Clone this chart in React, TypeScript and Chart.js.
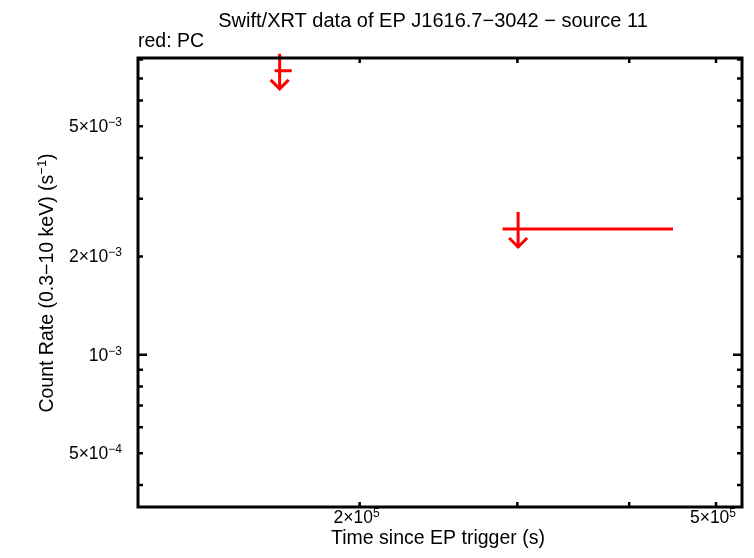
import React, { useEffect, useRef } from "react";
import { Chart, registerables } from "chart.js";

Chart.register(...registerables);

// ---- text ----
const TITLE = "Swift/XRT data of EP J1616.7\u22123042 \u2212 source 11";
const SUBTITLE = "red: PC";
const X_LABEL = "Time since EP trigger (s)";
const Y_LABEL_BASE = "Count Rate (0.3\u221210 keV) (s";
const Y_LABEL_EXP = "\u22121";
const Y_LABEL_TAIL = ")";

// ---- data (PC mode upper limits) ----
const times = [1.628e5, 3.006e5];
const timeLow = [1.607e5, 2.888e5];
const timeHigh = [1.6795e5, 4.477e5];
const upperLimits = [7.39e-3, 2.426e-3];

// ---- axis ranges ----
const X_MIN = 1.131e5;
const X_MAX = 5.346e5;
const Y_MIN = 3.424e-4;
const Y_MAX = 8.09e-3;

// ---- ticks ----
const xTickValues = [2e5, 3e5, 4e5, 5e5];
const xLabelValues = [2e5, 5e5];
const xLabelBases = ["2\u00d710", "5\u00d710"];
const xLabelExps = ["5", "5"];

const yTickValues = [4e-4, 5e-4, 6e-4, 7e-4, 8e-4, 9e-4, 1e-3, 2e-3, 3e-3, 4e-3, 5e-3, 6e-3, 7e-3, 8e-3];
const yMajorValues = [1e-3];
const yLabelValues = [5e-4, 1e-3, 2e-3, 5e-3];
const yLabelBases = ["5\u00d710", "10", "2\u00d710", "5\u00d710"];
const yLabelExps = ["\u22124", "\u22123", "\u22123", "\u22123"];

const FAMILY = "'Liberation Sans', Arial, Helvetica, sans-serif";

function drawSup(
  ctx: CanvasRenderingContext2D,
  base: string,
  exp: string,
  x: number,
  y: number,
  align: "left" | "center" | "right",
  baseSize: number,
  supSize: number,
  raise: number,
  tail = ""
) {
  ctx.font = `${baseSize}px ${FAMILY}`;
  const wb = ctx.measureText(base).width;
  const wt = tail ? ctx.measureText(tail).width : 0;
  ctx.font = `${supSize}px ${FAMILY}`;
  const we = ctx.measureText(exp).width;
  const total = wb + we + wt;
  let sx = x;
  if (align === "center") sx = x - total / 2;
  else if (align === "right") sx = x - total;
  ctx.textAlign = "left";
  ctx.textBaseline = "alphabetic";
  ctx.font = `${baseSize}px ${FAMILY}`;
  ctx.fillText(base, sx, y);
  ctx.font = `${supSize}px ${FAMILY}`;
  ctx.fillText(exp, sx + wb, y - raise);
  if (tail) {
    ctx.font = `${baseSize}px ${FAMILY}`;
    ctx.fillText(tail, sx + wb + we, y);
  }
}

const framePlugin = {
  id: "qdpFrame",
  afterDraw(chart: any) {
    const ctx: CanvasRenderingContext2D = chart.ctx;
    const { left, right, top, bottom } = chart.chartArea;
    const xs = chart.scales.x;
    const ys = chart.scales.y;
    ctx.save();

    // upper limits
    ctx.strokeStyle = "#ff0000";
    ctx.lineWidth = 3;
    ctx.lineCap = "butt";
    for (let i = 0; i < times.length; i++) {
      const px = xs.getPixelForValue(times[i]);
      const py = ys.getPixelForValue(upperLimits[i]);
      const x0 = xs.getPixelForValue(timeLow[i]);
      const x1 = xs.getPixelForValue(timeHigh[i]);
      ctx.beginPath();
      ctx.moveTo(x0, py);
      ctx.lineTo(x1, py);
      ctx.moveTo(px, py - 17);
      ctx.lineTo(px, py + 19);
      ctx.stroke();
      ctx.beginPath();
      ctx.moveTo(px - 9, py + 9);
      ctx.lineTo(px, py + 18);
      ctx.lineTo(px + 9, py + 9);
      ctx.stroke();
    }

    // frame
    ctx.strokeStyle = "#000";
    ctx.lineWidth = 3;
    ctx.strokeRect(left, top, right - left, bottom - top);

    // ticks
    ctx.lineWidth = 2.5;
    ctx.beginPath();
    for (const v of xTickValues) {
      const px = xs.getPixelForValue(v);
      ctx.moveTo(px, bottom);
      ctx.lineTo(px, bottom - 5);
      ctx.moveTo(px, top);
      ctx.lineTo(px, top + 5);
    }
    for (const v of yTickValues) {
      const py = ys.getPixelForValue(v);
      const len = yMajorValues.includes(v) ? 9 : 5;
      ctx.moveTo(left, py);
      ctx.lineTo(left + len, py);
      ctx.moveTo(right, py);
      ctx.lineTo(right - len, py);
    }
    ctx.stroke();

    // tick labels
    ctx.fillStyle = "#000";
    xLabelValues.forEach((v, i) => {
      const px = xs.getPixelForValue(v);
      drawSup(ctx, xLabelBases[i], xLabelExps[i], px - 3, bottom + 16, "center", 17.5, 12, 6);
    });
    yLabelValues.forEach((v, i) => {
      const py = ys.getPixelForValue(v);
      drawSup(ctx, yLabelBases[i], yLabelExps[i], 122, py + 6, "right", 17.5, 12, 6);
    });

    // titles
    ctx.font = `20px ${FAMILY}`;
    ctx.textAlign = "center";
    ctx.textBaseline = "alphabetic";
    ctx.fillText(TITLE, 433, 27);
    ctx.textAlign = "left";
    ctx.font = `19.5px ${FAMILY}`;
    ctx.fillText(SUBTITLE, 138, 47);
    ctx.textAlign = "center";
    ctx.fillText(X_LABEL, 438, 544);

    ctx.save();
    ctx.translate(53, 283);
    ctx.rotate(-Math.PI / 2);
    drawSup(ctx, Y_LABEL_BASE, Y_LABEL_EXP, 0, 0, "center", 19.5, 13, 7, Y_LABEL_TAIL);
    ctx.restore();

    ctx.restore();
  },
};

export default function App() {
  const ref = useRef<HTMLCanvasElement | null>(null);
  useEffect(() => {
    if (!ref.current) return;
    const chart = new Chart(ref.current, {
      type: "scatter",
      data: {
        datasets: [
          {
            label: "PC",
            data: times.map((t, i) => ({ x: t, y: upperLimits[i] })),
            pointRadius: 0,
            showLine: false,
            borderColor: "#ff0000",
            backgroundColor: "#ff0000",
          },
        ],
      },
      options: {
        animation: false,
        responsive: false,
        devicePixelRatio: 1,
        layout: { padding: { left: 138, right: 12, top: 58, bottom: 51 } },
        scales: {
          x: { type: "logarithmic", bounds: "data", min: X_MIN, max: X_MAX, display: false },
          y: { type: "logarithmic", bounds: "data", min: Y_MIN, max: Y_MAX, display: false },
        },
        plugins: {
          legend: { display: false },
          tooltip: { enabled: false },
          title: { display: false },
        },
      },
      plugins: [framePlugin],
    });
    return () => chart.destroy();
  }, []);
  return (
    <div style={{ position: "fixed", left: 0, top: 0, width: 754, height: 558, background: "#fff" }}>
      <canvas ref={ref} width={754} height={558} style={{ display: "block" }} />
    </div>
  );
}
